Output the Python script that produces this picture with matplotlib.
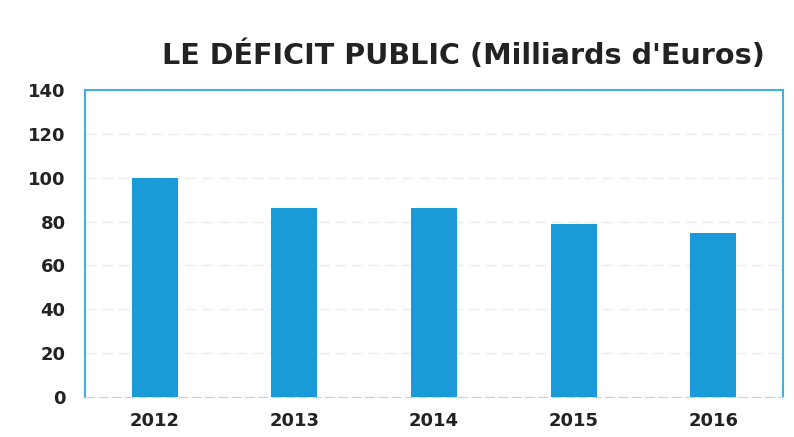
import matplotlib.pyplot as plt

years = ["2012", "2013", "2014", "2015", "2016"]
deficit = [100, 86, 86, 79, 75]

fig = plt.figure(figsize=(7.94, 4.37), dpi=100)
ax = fig.add_axes([85 / 794, 1 - 397 / 437, 698 / 794, 307 / 437])

ax.bar(range(len(years)), deficit, width=0.33, color="#1a9ad6", zorder=3)

ax.set_xlim(-0.5, len(years) - 0.5)
ax.set_ylim(0, 140)
ax.set_yticks(range(0, 141, 20))
ax.set_xticks(range(len(years)))
ax.set_xticklabels(years)
ax.yaxis.grid(True, color="#ececec", linewidth=1, linestyle=(0, (8, 4)), zorder=0)

for side in ["left", "top", "right"]:
    ax.spines[side].set_color("#3fb0ea")
    ax.spines[side].set_linewidth(1.5)
ax.spines["bottom"].set_color("#d0d0d0")
ax.spines["bottom"].set_linestyle((0, (8, 4)))

ax.tick_params(length=0, labelsize=13, colors="#222222")
ax.tick_params(axis="y", pad=14)
ax.tick_params(axis="x", pad=11)
for lab in ax.get_xticklabels() + ax.get_yticklabels():
    lab.set_fontweight("bold")

fig.text(0.584, 0.874, "LE DÉFICIT PUBLIC (Milliards d'Euros)", ha="center", va="center",
         fontsize=20.6, fontweight="bold", color="#222222")

fig.savefig("out.png", dpi=100)
